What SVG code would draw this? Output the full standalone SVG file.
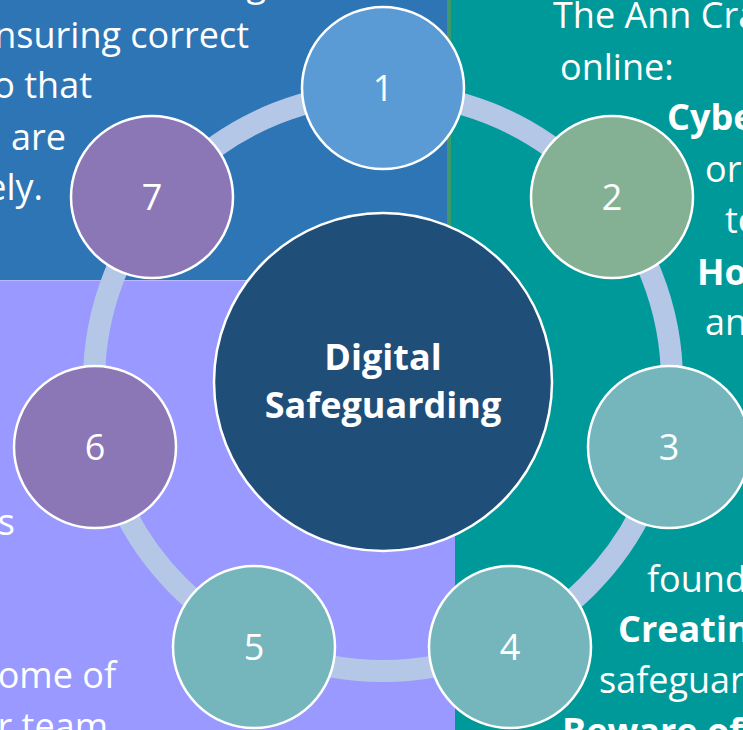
<svg xmlns="http://www.w3.org/2000/svg" width="743" height="730" viewBox="0 0 743 730">
<style>
.t{font-family:"Open Sans","Liberation Sans",sans-serif;font-size:36px;fill:#FFFFFF}
.b{font-weight:bold}
.e{text-anchor:end}
.node{stroke:#FFFFFF;stroke-width:2.5}
.num{font-family:"Open Sans","Liberation Sans",sans-serif;font-size:36px;fill:#FFFFFF;text-anchor:middle}
</style>
<g id="background">
<rect x="0" y="0" width="451" height="280" fill="#2E75B6"/>
<rect x="451" y="0" width="292" height="730" fill="#009999"/>
<rect x="447" y="0" width="4" height="280" fill="#3E9A6C"/>
<rect x="0" y="280" width="455" height="450" fill="#9999FF"/>
<line x1="0" y1="280.5" x2="455" y2="280.5" stroke="#B8B8FF" stroke-width="1"/>
</g>
<g id="text-left">
<text class="t e" x="266" y="-4">g</text>
<text class="t e" x="249" y="48">nsuring correct</text>
<text class="t e" x="92" y="98">o that</text>
<text class="t e" x="66" y="150">are</text>
<text class="t e" x="43" y="200">ely.</text>
<text class="t e" x="15" y="535">s</text>
<text class="t e" x="116" y="688">ome of</text>
<text class="t e" x="108" y="739">r team</text>
</g>
<g id="text-right">
<text class="t" x="553" y="28">The Ann Cra</text>
<text class="t" x="560" y="80">online:</text>
<text class="t b" x="667" y="130">Cybe</text>
<text class="t" x="705" y="182">or</text>
<text class="t" x="725" y="233">to</text>
<text class="t b" x="697" y="285">Ho</text>
<text class="t" x="705" y="335">an</text>
<text class="t" x="647" y="592">found</text>
<text class="t b" x="618" y="642">Creatin</text>
<text class="t" x="599" y="693">safeguar</text>
<text class="t b" x="562" y="744">Beware of</text>
</g>
<g id="connectors">
<circle cx="383" cy="382" r="289" fill="none" stroke="#B4C7E7" stroke-width="22"/>
</g>
<g id="center">
<circle cx="383" cy="382" r="169" fill="#1F4E79" stroke="#FFFFFF" stroke-width="2.5"/>
<text class="t b" x="383" y="370" text-anchor="middle" font-size="34">Digital</text>
<text class="t b" x="383" y="418" text-anchor="middle" font-size="34">Safeguarding</text>
</g>
<g id="node1"><circle class="node" cx="383" cy="88" r="81" fill="#5B9BD5"/><text class="num" x="383" y="101">1</text></g>
<g id="node2"><circle class="node" cx="612" cy="197" r="81" fill="#84B093"/><text class="num" x="612" y="210">2</text></g>
<g id="node3"><circle class="node" cx="669" cy="447" r="81" fill="#75B6BD"/><text class="num" x="669" y="460">3</text></g>
<g id="node4"><circle class="node" cx="510" cy="647" r="81" fill="#75B6BD"/><text class="num" x="510" y="660">4</text></g>
<g id="node5"><circle class="node" cx="254" cy="647" r="81" fill="#75B6BD"/><text class="num" x="254" y="660">5</text></g>
<g id="node6"><circle class="node" cx="95" cy="447" r="81" fill="#8C77B6"/><text class="num" x="95" y="460">6</text></g>
<g id="node7"><circle class="node" cx="152" cy="197" r="81" fill="#8C77B6"/><text class="num" x="152" y="210">7</text></g>
</svg>
